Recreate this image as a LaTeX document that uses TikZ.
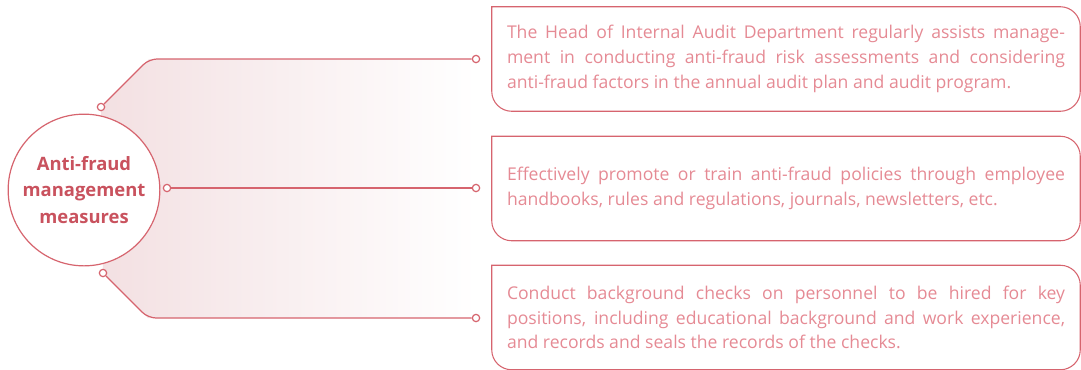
\documentclass[tikz,border=0pt]{standalone}
\usepackage{fontspec}
\setmainfont{Open Sans}
\usetikzlibrary{backgrounds}
\usepackage{xcolor}
\definecolor{linered}{RGB}{214,100,110}
\definecolor{hubred}{RGB}{201,82,94}
\definecolor{cardtext}{RGB}{229,138,148}
\definecolor{shadepink}{RGB}{243,224,226}

\begin{document}
\begin{tikzpicture}[x=0.75pt,y=-0.75pt,
	conn/.style={draw=linered,line width=0.9pt},
	dot/.style={circle,draw=linered,line width=0.9pt,fill=white,inner sep=0pt,minimum size=5.5pt},
	hub/.style={circle,draw=linered,line width=0.9pt,fill=white,minimum size=112.5pt,align=center,text=hubred,font=\fontsize{13.8}{20}\selectfont\bfseries},
	card/.style={minimum width=441pt,minimum height=78pt,inner xsep=11.25pt,text width=418.5pt,align=justify,text=cardtext,font=\fontsize{13.2}{18.5}\selectfont},
	cardline/.style={draw=linered,line width=0.8pt}]
					\useasboundingbox (0,0) rectangle (1081,369);
					% hub and cards
					\node[hub] (hub) at (84,190) {Anti-fraud\\management\\measures};
					\node[card] (c1) at (786,59) {The Head of Internal Audit Department regularly assists manage-\linebreak ment in conducting anti-fraud risk assessments and considering\linebreak anti-fraud factors in the annual audit plan and audit program.};
					\node[card] (c2) at (786,188.5) {Effectively promote or train anti-fraud policies through employee\linebreak handbooks, rules and regulations, journals, newsletters, etc.};
					\node[card] (c3) at (786,317.5) {Conduct background checks on personnel to be hired for key\linebreak positions, including educational background and work experience,\linebreak and records and seals the records of the checks.};
					\foreach \c in {c1,c2,c3}
						\draw[cardline] (\c.north) [rounded corners=15pt] -- (\c.north east) -- (\c.south east) -- (\c.south west) -- (\c.west) [sharp corners] -- (\c.north west) -- cycle;
					% end points
					\node[dot] (t1) at (101,107) {};
					\node[dot] (t2) at (167,188) {};
					\node[dot] (t3) at (103,273) {};
					\node[dot] (e1) at (476,59) {};
					\node[dot] (e2) at (476,188) {};
					\node[dot] (e3) at (476,318) {};
					\coordinate (k1) at (149,59);
					\coordinate (k3) at (148,318);
					\draw[conn,rounded corners=6pt] (t1) -- (k1) -- (e1);
					\draw[conn] (t2) -- (e2);
					\draw[conn,rounded corners=6pt] (t3) -- (k3) -- (e3);
					\begin{scope}[on background layer]
						\shade[left color=shadepink,middle color=shadepink!75,right color=white] (t1.center) -- (k1) -- (e1.center) -- (e3.center) -- (k3) -- (t3.center) -- cycle;
					\end{scope}
				\end{tikzpicture}
\end{document}
